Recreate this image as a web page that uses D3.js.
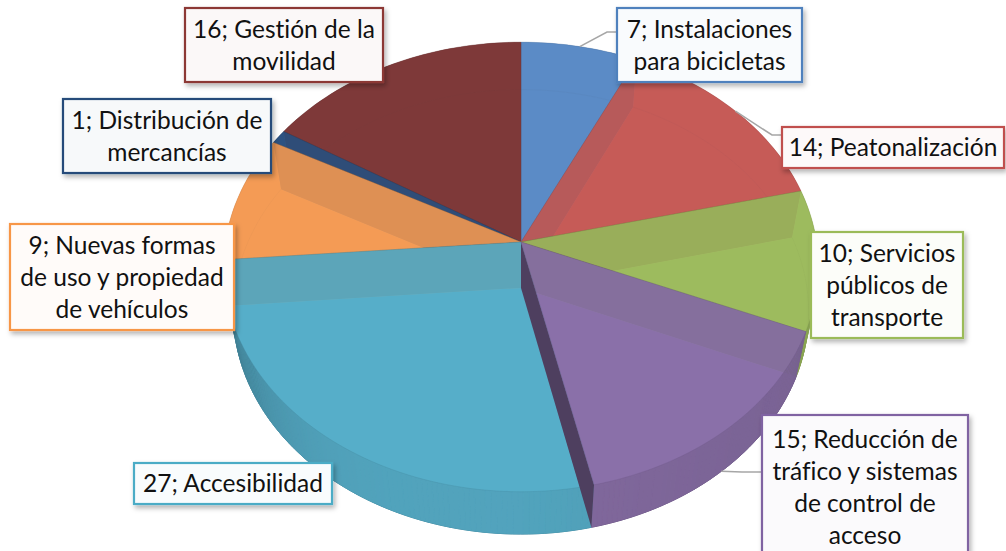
<!DOCTYPE html>
<html>
<head>
<meta charset="utf-8">
<script src="https://cdn.jsdelivr.net/npm/d3@7"></script>
<style>
  html, body { margin: 0; padding: 0; background: #fff; }
  svg { display: block; }
  .lbl text { font-family: Lato, "Open Sans", sans-serif; font-size: 24.5px; fill: #111; font-variant-ligatures: none; }
</style>
</head>
<body>
<div id="chart"></div>
<script>
// data, clockwise from 12 o'clock
const categories = [
  'Instalaciones\npara bicicletas',
  'Peatonalización',
  'Servicios\npúblicos de\ntransporte',
  'Reducción de\ntráfico y sistemas\nde control de\nacceso',
  'Accesibilidad',
  'Nuevas formas\nde uso y propiedad\nde vehículos',
  'Distribución de\nmercancías',
  'Gestión de la\nmovilidad'
];
const values = [7, 14, 10, 15, 27, 9, 1, 16];
const colors = ['#5b8bc5', '#c55b58', '#9dbb5e', '#8a70a8', '#57aec9', '#f49b55', '#2c5282', '#7e3a3a'];
const borderColors = ['#4f81bd', '#c0504d', '#9bbb59', '#8064a2', '#4bacc6', '#f79646', '#254c7a', '#8c3836'];

// label boxes [x, y, w, h] and leader elbows (null = no leader)
const boxes = [
  [617, 8, 185, 74], [782, 127, 222, 41], [811, 232, 152, 106], [762, 415, 206, 145],
  [134, 463, 198, 41], [10, 224, 224, 106], [63, 99, 208, 74], [185, 8, 198, 74]
];
const leaders = [
  { elbow: [607, 32], z: 0 }, { elbow: [772, 135], z: 0 }, null,
  { elbow: [742, 472], z: 1 }, null, null, null, null
];

const width = 1006, height = 551;
const lineH = 32;

// perspective camera
const cam = { cx: 521, cy: 242, F: 1678, d: 5.79, phi: 40 * Math.PI / 180, h: 0.255, sx: 1.02 };
const sn = Math.sin(cam.phi), cs = Math.cos(cam.phi);

function project(a, r, z) {
  const x = r * Math.sin(a), y = r * Math.cos(a);
  const depth = cam.d + y * sn - z * cs;
  const up = y * cs + z * sn;
  return [cam.cx + cam.sx * cam.F * x / depth, cam.cy - cam.F * up / depth];
}

const arcPts = (a0, a1, z, n) => d3.range(n + 1).map(i => project(a0 + (a1 - a0) * i / n, 1, z));
const closed = d3.line().curve(d3.curveLinearClosed);
const open = d3.line();

const svg = d3.select('#chart').append('svg')
  .attr('width', width)
  .attr('height', height);

const defs = svg.append('defs');
defs.append('filter').attr('id', 'shadow')
  .attr('x', '-10%').attr('y', '-10%').attr('width', '130%').attr('height', '140%')
  .append('feDropShadow')
  .attr('dx', 2).attr('dy', 3).attr('stdDeviation', 2.5)
  .attr('flood-color', '#000').attr('flood-opacity', 0.3);

const slices = d3.pie().sort(null).value(d => d)(values);
const h = -cam.h;

// back to front, by depth of the slice centroid
const order = slices.map((s, i) => {
  const th = s.endAngle - s.startAngle;
  const mid = (s.startAngle + s.endAngle) / 2;
  return { i, yc: 4 * Math.sin(th / 2) / (3 * th) * Math.cos(mid) };
}).sort((a, b) => b.yc - a.yc).map(o => o.i);

const pieG = svg.append('g');

// underlay: bottom faces and full outer walls
slices.forEach((s, i) => {
  const n = Math.max(2, Math.ceil((s.endAngle - s.startAngle) * 40));
  const bottom = [project(0, 0, h), ...arcPts(s.startAngle, s.endAngle, h, n)];
  pieG.append('path').attr('d', closed(bottom)).attr('fill', colors[i]);
  const wall = [...arcPts(s.startAngle, s.endAngle, 0, n), ...arcPts(s.startAngle, s.endAngle, h, n).reverse()];
  pieG.append('path').attr('d', closed(wall)).attr('fill', colors[i]);
  pieG.append('path').attr('d', open(arcPts(s.startAngle, s.endAngle, h, n)))
    .attr('fill', 'none')
    .attr('stroke', d3.color(colors[i]).darker(0.9))
    .attr('stroke-width', 0.9);
});

const visLo = Math.acos(-1 / (cam.d * sn)), visHi = 2 * Math.PI - visLo;

order.forEach(i => {
  const s = slices[i];
  const g = pieG.append('g');
  const a0 = s.startAngle, a1 = s.endAngle;

  // front outer wall, shaded by angle
  const w0 = Math.max(a0, visLo), w1 = Math.min(a1, visHi);
  if (w1 > w0) {
    const n = Math.max(2, Math.ceil((w1 - w0) * 60));
    for (let k = 0; k < n; k++) {
      const b0 = w0 + (w1 - w0) * k / n, b1 = w0 + (w1 - w0) * (k + 1) / n;
      const m = (b0 + b1) / 2;
      const shade = 0.18 + 0.8 * Math.max(0, -Math.sin(m)) ** 5 + 0.2 * Math.max(0, Math.sin(m));
      const c = d3.color(colors[i]).darker(shade);
      g.append('path')
        .attr('d', closed([project(b0, 1, 0), project(b1, 1, 0), project(b1, 1, h), project(b0, 1, h)]))
        .attr('fill', c).attr('stroke', c).attr('stroke-width', 0.6);
    }
  }

  // radial walls facing the viewer
  const radial = a => closed([project(a, 0, 0), project(a, 1, 0), project(a, 1, h), project(a, 0, h)]);
  const wallColor = d3.color(colors[i]).darker(1.6);
  if (Math.sin(a0) < -1e-6) g.append('path').attr('d', radial(a0)).attr('fill', wallColor);
  if (Math.sin(a1) > 1e-6) g.append('path').attr('d', radial(a1)).attr('fill', wallColor);

  // top face
  const n = Math.max(2, Math.ceil((a1 - a0) * 40));
  g.append('path')
    .attr('d', closed([project(0, 0, 0), ...arcPts(a0, a1, 0, n)]))
    .attr('fill', colors[i])
    .attr('fill-opacity', 0.9)
    .attr('stroke', d3.color(colors[i]).darker(0.6))
    .attr('stroke-width', 0.6)
    .attr('stroke-opacity', 0.6);
});

// leader lines
const leaderG = svg.append('g');
leaders.forEach((l, i) => {
  if (!l) return;
  const s = slices[i];
  const start = project((s.startAngle + s.endAngle) / 2, 1, l.z ? h : 0);
  leaderG.append('path')
    .attr('d', open([start, l.elbow, [boxes[i][0], l.elbow[1]]]))
    .attr('fill', 'none')
    .attr('stroke', '#a6a6a6')
    .attr('stroke-width', 1.5);
});

// labels
const lbl = svg.append('g').attr('class', 'lbl');
slices.forEach((s, i) => {
  const [x, y, w, bh] = boxes[i];
  const g = lbl.append('g');
  g.append('rect')
    .attr('x', x).attr('y', y).attr('width', w).attr('height', bh)
    .attr('fill', d3.interpolateRgb('#ffffff', borderColors[i])(0.035))
    .attr('stroke', borderColors[i])
    .attr('stroke-width', 2.2)
    .attr('filter', 'url(#shadow)');
  const lines = `${values[i]}; ${categories[i]}`.split('\n');
  const top = y + bh / 2 - (lines.length - 1) * lineH / 2;
  lines.forEach((t, k) => {
    g.append('text')
      .attr('x', x + w / 2)
      .attr('y', top + k * lineH)
      .attr('dy', '0.35em')
      .attr('text-anchor', 'middle')
      .text(t);
  });
});
</script>
</body>
</html>
